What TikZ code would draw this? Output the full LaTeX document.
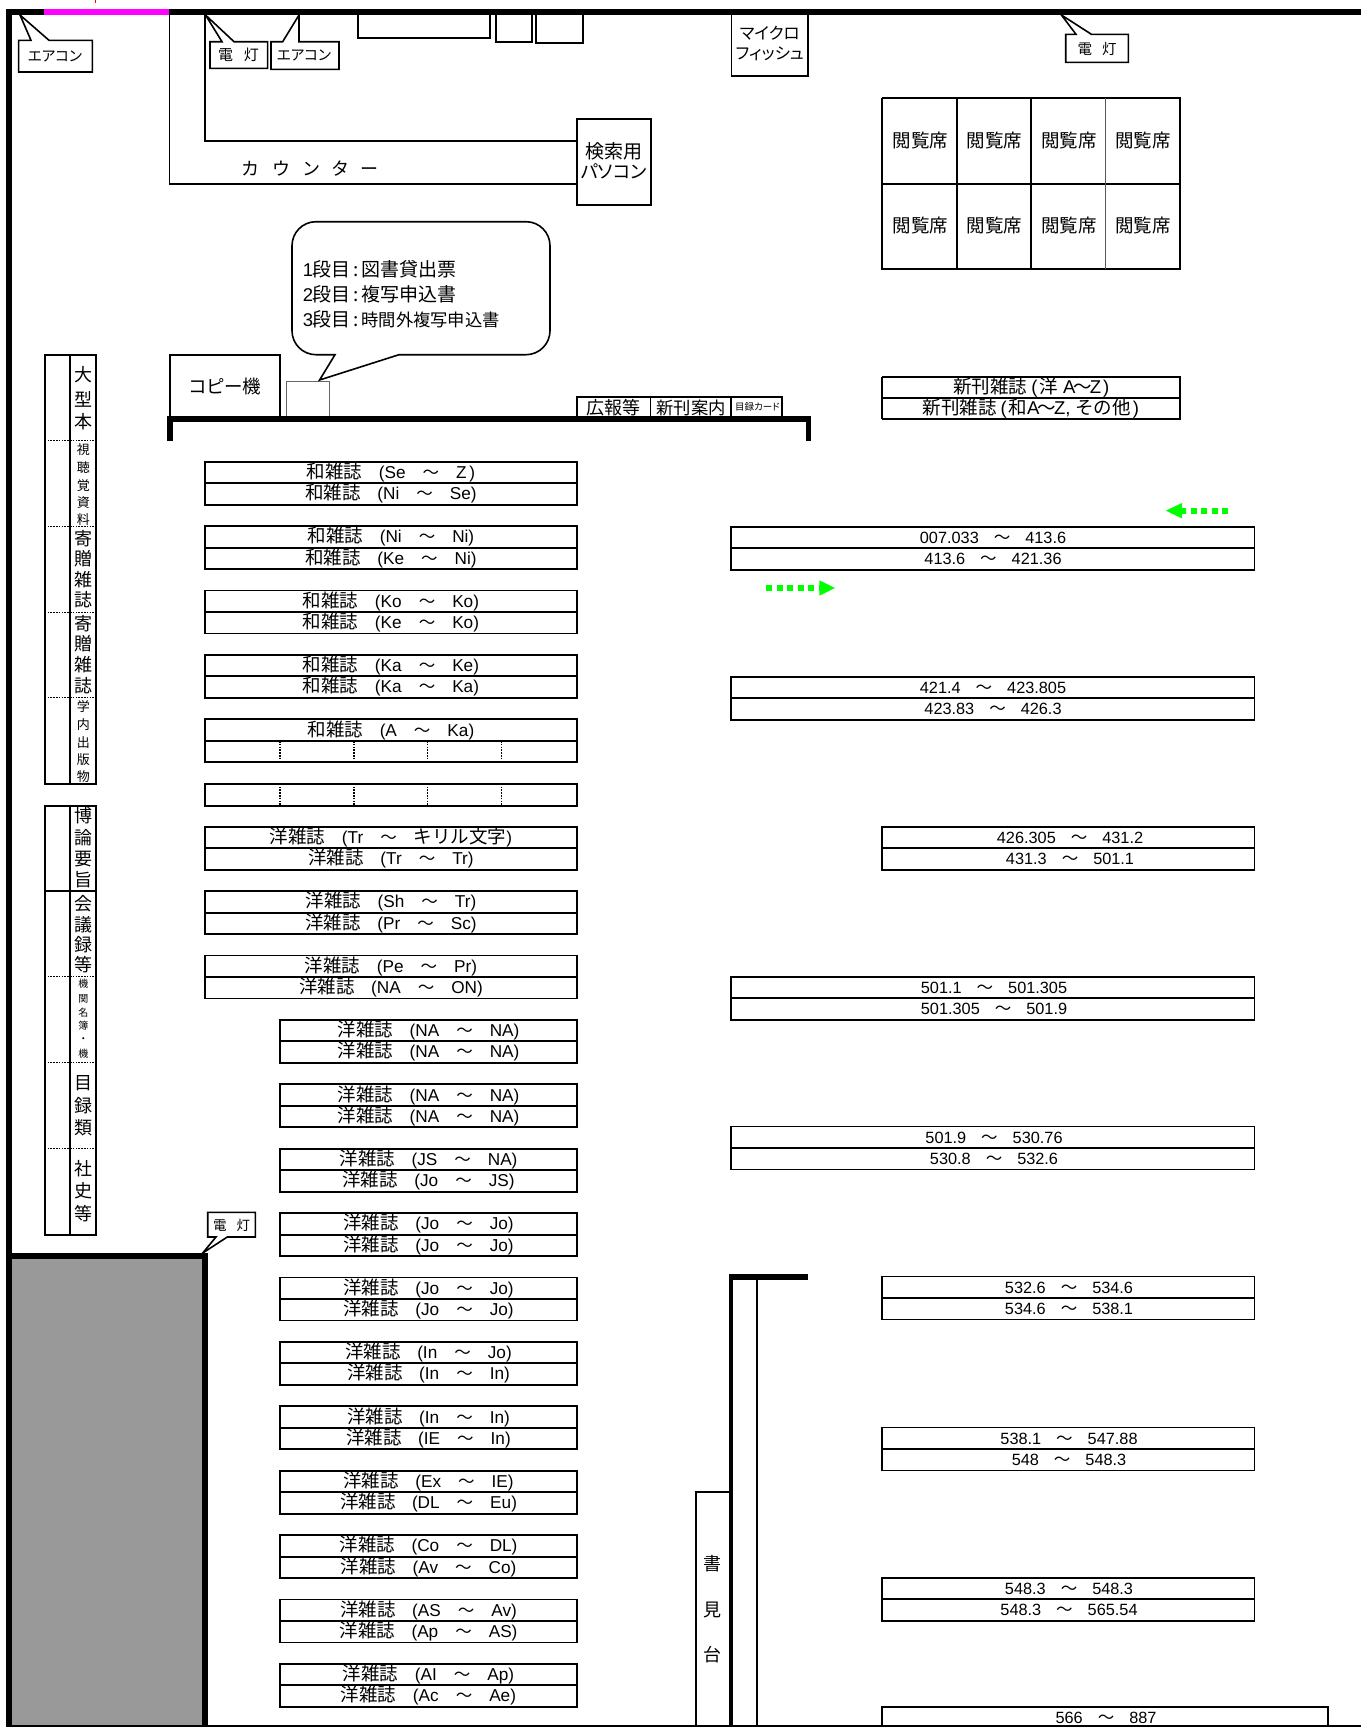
\documentclass[tikz,border=0pt]{standalone}
\usepackage{fontspec}
\setmainfont{Noto Sans CJK JP}
\newfontfamily\latfam{Liberation Sans}
\newfontfamily\pfont[RawFeature=+palt]{Noto Sans CJK JP}
\newcommand\mylat[1]{{\latfam\fontsize{16.3}{18}\selectfont #1}}
\newcommand\mylatc[1]{{\latfam\fontsize{17.2}{18}\selectfont #1}}
\newcommand\mylatb[1]{{\latfam\fontsize{18.5}{19}\selectfont #1}}
\newcommand\wv{{\fontsize{16.5}{19}\selectfont ～}}
\newcommand\zs[3]{#1\hspace{16.5pt}\mylatc{(#2}\hspace{17pt}\wv\hspace{17pt}\mylatc{#3)}}
\newcommand\zsj[3]{#1\hspace{16.5pt}\mylatc{(#2}\hspace{17pt}\wv\hspace{17pt}#3\mylatc{)}}
\newcommand\rg[2]{\mylat{#1}\hspace{15pt}\wv\hspace{15pt}\mylat{#2}}
% centred on x,y (y = centre of CJK em box); #3 size
\newcommand\ctx[4]{\node[inner sep=0,anchor=base] at ({#1},{#2+0.38*#3}) {\fontsize{#3}{#3}\selectfont #4};}
\newcommand\lefttx[4]{\node[inner sep=0,anchor=base west] at ({#1},{#2+0.38*#3}) {\fontsize{#3}{#3}\selectfont #4};}
\newcommand\pairbox[6]{%
  \draw[shelf] ({#1},{#3}) rectangle ({#2},{#3+43});
  \draw[shelf] ({#1},{#3+21.5}) -- ({#2},{#3+21.5});
  \node[inner sep=0,anchor=base] at ({#4},{#3+16.8}) {\fontsize{18.5}{19}\selectfont #5};
  \node[inner sep=0,anchor=base] at ({#4},{#3+38}) {\fontsize{18.5}{19}\selectfont #6};
}
\tikzset{
  shelf/.style={draw=black,line width=1.9pt},
  thinln/.style={draw=black,line width=1.9pt},
  callbox/.style={draw=black,fill=white,line width=1.6pt,line join=miter},
  dots/.style={draw=black,line width=1.5pt,dash pattern=on 1.6pt off 1.2pt},
  wall/.style={fill=black,draw=none},
  gdots/.style={draw=green!100,line width=6pt,dash pattern=on 6pt off 4.5pt},
}
\begin{document}
\begin{tikzpicture}[x=1pt,y=-1pt]
\useasboundingbox (0,0) rectangle (1361,1727);
\fill[white] (0,0) rectangle (1361,1727);
% gray block
\fill[fill={rgb,255:red,153;green,153;blue,153}] (11,1255) rectangle (203,1727);
% counter
\draw[thinln] (169.5,15) -- (169.5,183.7) -- (577,183.7);
\draw[thinln] (204.7,15) -- (204.7,141) -- (577,141);
\ctx{250.6}{169}{18}{カ}\ctx{281}{169}{18}{ウ}\ctx{311}{169}{18}{ン}\ctx{340}{169}{18}{タ}\ctx{369}{169}{18}{ー}
\draw[thinln] (577,118.7) rectangle (651,205);
\ctx{613.6}{151}{19}{検索用}
\ctx{613.6}{172}{18.3}{\pfont パソコン}
% top fixtures
\draw[shelf] (358,15) -- (358,38) -- (490,38) -- (490,15);
\draw[shelf] (495.6,15) -- (495.6,42) -- (531.6,42) -- (531.6,15);
\draw[shelf] (535.6,15) -- (535.6,43) -- (583,43) -- (583,15);
\draw[thinln] (731.5,15) -- (731.5,76) -- (808,76) -- (808,15);
\ctx{769.7}{33.3}{16.5}{\pfont マイクロ}
\ctx{769.7}{53.3}{16.5}{\pfont フィッシュ}
% callouts on top wall
\draw[callbox] (18.6,40.3) -- (31,40.3) -- (20,15) -- (49,40.3) -- (92.4,40.3) -- (92.4,72) -- (18.6,72) -- cycle;
\ctx{55}{56}{14.5}{\pfont エアコン}
\draw[callbox] (210,41.7) -- (222,41.7) -- (205.5,15) -- (234,41.7) -- (267.6,41.7) -- (267.6,68.3) -- (210,68.3) -- cycle;
\ctx{238.5}{55}{15}{電\hspace{11pt}灯}
\draw[callbox] (271,41.7) -- (282.7,41.7) -- (299,15) -- (299,41.7) -- (339,41.7) -- (339,69.3) -- (271,69.3) -- cycle;
\ctx{304}{55}{14.5}{\pfont エアコン}
\draw[callbox] (1065.7,34.3) -- (1076,34.3) -- (1061.4,15) -- (1091.4,34.3) -- (1128.3,34.3) -- (1128.3,62.3) -- (1065.7,62.3) -- cycle;
\ctx{1097}{49.3}{14.5}{電\hspace{10pt}灯}
% reading seats
\draw[thinln] (882,98) -- (1181,98);
\draw[thinln] (882,183.7) -- (1181,183.7);
\draw[thinln] (882,268.7) -- (1181,268.7);
\draw[thinln] (882,98) -- (882,270);
\draw[thinln] (956.7,98) -- (956.7,268.7);
\draw[thinln] (1031,98) -- (1031,268.7);
\draw[draw=black!65,line width=1.6pt] (1105.3,98) -- (1105.3,268.7);
\draw[thinln] (1179.6,98) -- (1179.6,268.7);
\foreach \x in {920.3,994.6,1068.9,1143.2}{
  \ctx{\x}{140}{18.5}{閲覧席}
  \ctx{\x}{225}{18.5}{閲覧席}
}
% small box under bubble tip
\draw[draw=black!60,line width=1.5pt] (286.6,418) -- (286.6,381.7) -- (329.6,381.7) -- (329.6,418);
% speech bubble
\draw[callbox,line cap=round] (399,354.7) -- (319.6,380) -- (335,354.7) [rounded corners=24pt] -- (292,354.7) -- (292,221.7) -- (550,221.7) -- (550,354.7) -- (399,354.7);
\lefttx{302.7}{269}{19}{\mylatb{1}\hspace{-1pt}段目\hspace{3pt}:\hspace{3pt}図書貸出票}
\lefttx{302.7}{294.7}{19}{\mylatb{2}\hspace{-1pt}段目\hspace{3pt}:\hspace{3pt}複写申込書}
\lefttx{302.7}{319.7}{19}{\mylatb{3}\hspace{-1pt}段目\hspace{3pt}:\hspace{3pt}{\fontsize{17.3}{19}\selectfont 時間外複写申込書}}
% copy machine etc
\draw[thinln] (169.6,417) -- (169.6,355) -- (280,355) -- (280,417);
\ctx{225.5}{386}{18.5}{\pfont コピー機}
\draw[thinln] (577,418) -- (577,397.3) -- (782,397.3) -- (782,418);
\draw[thinln] (650.5,397.3) -- (650.5,418);
\draw[thinln] (731,397.3) -- (731,418);
\ctx{613.6}{408}{18}{広報等}
\ctx{691}{408}{17.3}{新刊案内}
\ctx{757.5}{406.5}{9.5}{\pfont 目録カード}
% new journals
\draw[shelf] (882,377) -- (1181,377);
\draw[shelf] (882,398) -- (1181,398);
\draw[shelf] (882,419.3) -- (1181,419.3);
\draw[shelf] (882,377) -- (882,419.3);
\draw[shelf] (1179.6,377) -- (1179.6,419.3);
\node[inner sep=0,anchor=base] at (1031.4,393) {\fontsize{18.5}{19}\selectfont 新刊雑誌\hspace{4pt}\mylatb{(}\hspace{2pt}洋\hspace{5pt}\mylatb{A}\hspace{-2pt}～\hspace{-2pt}\mylatb{Z}\hspace{2pt}\mylatb{)}};
\node[inner sep=0,anchor=base] at (1030.8,414.5) {\fontsize{18.5}{19}\selectfont 新刊雑誌\hspace{4pt}\mylatb{(}\hspace{2pt}和\mylatb{A}\hspace{-2pt}～\hspace{-2pt}\mylatb{Z,}\hspace{5pt}その他\hspace{2pt}\mylatb{)}};
% side stacks
\draw[shelf] (44.7,354.7) rectangle (96.3,784);
\draw[shelf] (70,354.7) -- (70,784);
\foreach \y in {440.7,526.7,612.7,697.7}{\draw[dots] (44.7,\y) -- (96.3,\y);}
\foreach \y/\c in {375/大,400/型,421.7/本,538.3/寄,558.3/贈,579.3/雑,600/誌,623.3/寄,643.3/贈,665/雑,686/誌}{\ctx{83.3}{\y}{18}{\c}}
\foreach \y/\c in {450/視,467.3/聴,485.3/覚,502.7/資,520/料,706.7/学,725/内,742.7/出,759.3/版,776.7/物}{\ctx{83.3}{\y}{13}{\c}}
\draw[shelf] (44.7,805.7) rectangle (96.3,1235);
\draw[shelf] (70,805.7) -- (70,1235);
\draw[shelf] (44.7,890.7) -- (96.3,890.7);
\foreach \y in {976.7,1062.7,1148.7}{\draw[dots] (44.7,\y) -- (96.3,\y);}
\foreach \y/\c in {816/博,837.7/論,858.3/要,879.3/旨,903.3/会,924.3/議,945/録,965/等,1082.3/目,1106/録,1127.7/類,1169/社,1191/史,1214/等}{\ctx{83.3}{\y}{18}{\c}}
\foreach \y/\c in {984/機,998.7/関,1012.7/名,1025.3/簿,1039/・,1053.3/機}{\ctx{83.3}{\y}{10}{\c}}
% walls
\fill[wall] (6,9) rectangle (1361,15);
\fill[fill={rgb,255:red,255;green,0;blue,255}] (44,9) rectangle (169,15);
\draw[red,line width=1.5pt] (95.4,0) -- (95.4,3);
\fill[wall] (6,9) rectangle (11.7,1727);
\fill[wall] (6,1253) rectangle (207.7,1259);
\fill[wall] (202,1253) rectangle (207.7,1727);
\fill[wall] (167,416) rectangle (810,421.7);
\fill[wall] (167,416) rectangle (172.5,440.7);
\fill[wall] (805.5,416) rectangle (811,441);
% lamp callout by the block
\draw[callbox] (207.7,1212.3) -- (255.3,1212.3) -- (255.3,1237) -- (227.3,1237) -- (202.7,1253) -- (216,1237) -- (207.7,1237) -- cycle;
\ctx{231.7}{1225}{13.5}{電\hspace{10pt}灯}
% left shelves
\pairbox{204.7}{577}{461.7}{391}{\zs{和雑誌}{Se}{Z\,}}{\zs{和雑誌}{Ni}{Se}}
\pairbox{204.7}{577}{526.1}{391}{\zs{和雑誌}{Ni}{Ni}}{\zs{和雑誌}{Ke}{Ni}}
\pairbox{204.7}{577}{590.5}{391}{\zs{和雑誌}{Ko}{Ko}}{\zs{和雑誌}{Ke}{Ko}}
\pairbox{204.7}{577}{654.9}{391}{\zs{和雑誌}{Ka}{Ke}}{\zs{和雑誌}{Ka}{Ka}}
\pairbox{204.7}{577}{719.3}{391}{\zs{和雑誌}{A}{Ka}}{}
\foreach \x in {280,354,427.7,501.7}{\draw[dots] (\x,741) -- (\x,762.7);}
\draw[shelf] (204.7,783.7) rectangle (577,805.7);
\foreach \x in {280,354,427.7,501.7}{\draw[dots] (\x,783.7) -- (\x,805.7);}
\pairbox{204.7}{577}{826.7}{391}{\zsj{洋雑誌}{Tr}{キリル文字}}{\zs{洋雑誌}{Tr}{Tr}}
\pairbox{204.7}{577}{891.1}{391}{\zs{洋雑誌}{Sh}{Tr}}{\zs{洋雑誌}{Pr}{Sc}}
\pairbox{204.7}{577}{955.5}{391}{\zs{洋雑誌}{Pe}{Pr}}{\zs{洋雑誌}{NA}{ON}}
\pairbox{280}{577}{1019.9}{428.5}{\zs{洋雑誌}{NA}{NA}}{\zs{洋雑誌}{NA}{NA}}
\pairbox{280}{577}{1084.3}{428.5}{\zs{洋雑誌}{NA}{NA}}{\zs{洋雑誌}{NA}{NA}}
\pairbox{280}{577}{1148.7}{428.5}{\zs{洋雑誌}{JS}{NA}}{\zs{洋雑誌}{Jo}{JS}}
\pairbox{280}{577}{1213.1}{428.5}{\zs{洋雑誌}{Jo}{Jo}}{\zs{洋雑誌}{Jo}{Jo}}
\pairbox{280}{577}{1277.5}{428.5}{\zs{洋雑誌}{Jo}{Jo}}{\zs{洋雑誌}{Jo}{Jo}}
\pairbox{280}{577}{1341.9}{428.5}{\zs{洋雑誌}{In}{Jo}}{\zs{洋雑誌}{In}{In}}
\pairbox{280}{577}{1406.3}{428.5}{\zs{洋雑誌}{In}{In}}{\zs{洋雑誌}{IE}{In}}
\pairbox{280}{577}{1470.7}{428.5}{\zs{洋雑誌}{Ex}{IE}}{\zs{洋雑誌}{DL}{Eu}}
\pairbox{280}{577}{1535.1}{428.5}{\zs{洋雑誌}{Co}{DL}}{\zs{洋雑誌}{Av}{Co}}
\pairbox{280}{577}{1599.5}{428.5}{\zs{洋雑誌}{AS}{Av}}{\zs{洋雑誌}{Ap}{AS}}
\pairbox{280}{577}{1663.9}{428.5}{\zs{洋雑誌}{AI}{Ap}}{\zs{洋雑誌}{Ac}{Ae}}
% right shelves
\pairbox{731}{1254.5}{526.7}{993}{\rg{007.033}{413.6}}{\rg{413.6}{421.36}}
\pairbox{731}{1254.5}{676.7}{993}{\rg{421.4}{423.805}}{\rg{423.83}{426.3}}
\pairbox{881.6}{1254.5}{826.7}{1070}{\rg{426.305}{431.2}}{\rg{431.3}{501.1}}
\pairbox{731}{1254.5}{976.7}{994}{\rg{501.1}{501.305}}{\rg{501.305}{501.9}}
\pairbox{731}{1254.5}{1126.5}{994}{\rg{501.9}{530.76}}{\rg{530.8}{532.6}}
\pairbox{881.6}{1254.5}{1276.5}{1069}{\rg{532.6}{534.6}}{\rg{534.6}{538.1}}
\pairbox{881.6}{1254.5}{1427.5}{1069}{\rg{538.1}{547.88}}{\rg{548}{548.3}}
\pairbox{881.6}{1254.5}{1577.7}{1069}{\rg{548.3}{548.3}}{\rg{548.3}{565.54}}
\draw[shelf] (881.6,1727) -- (881.6,1706.7) -- (1328,1706.7) -- (1328,1727);
\node[inner sep=0,anchor=base] at (1106,1723.5) {\fontsize{18.5}{19}\selectfont \rg{566}{887}};
% green arrows
\draw[gdots] (1228,510.7) -- (1182,510.7);
\fill[green] (1165.8,510.7) -- (1182,503) -- (1182,518.4) -- cycle;
\draw[gdots] (766,588) -- (819.3,588);
\fill[green] (835,588) -- (819.3,580.3) -- (819.3,595.7) -- cycle;
% reading stand
\draw[thinln] (696,1727) -- (696,1491.7) -- (729,1491.7);
\fill[wall] (728.6,1274) rectangle (733.4,1727);
\fill[wall] (728.6,1274) rectangle (808,1280);
\draw[thinln] (757,1280) -- (757,1727);
\ctx{712.6}{1564}{18}{書}
\ctx{712.6}{1610}{18}{見}
\ctx{712.6}{1655}{18}{台}
% floor line
\fill[wall] (6,1725) rectangle (1361,1727);
\end{tikzpicture}
\end{document}
